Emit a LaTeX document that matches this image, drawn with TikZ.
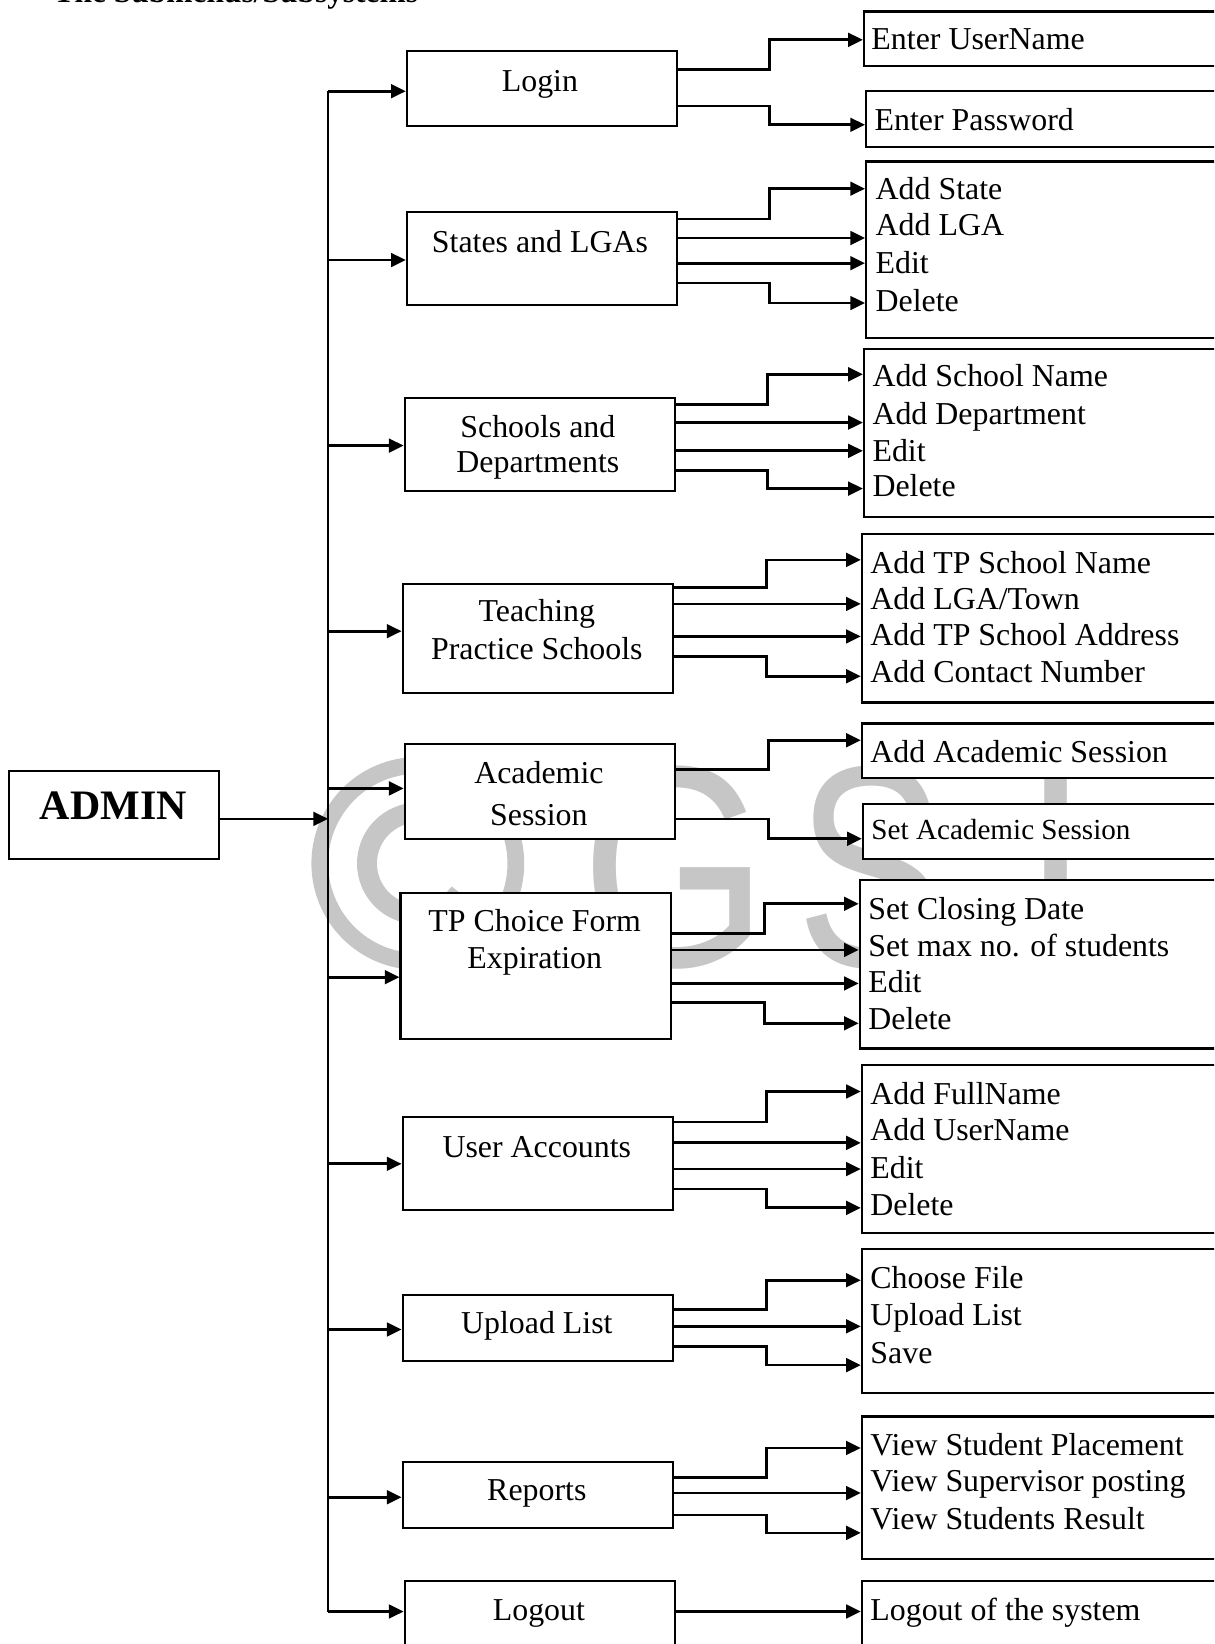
\documentclass[tikz,border=0pt]{standalone}
\usepackage{fontspec}
\setmainfont{Liberation Serif}
\newfontfamily\wmfont{Liberation Sans}
\usetikzlibrary{arrows.meta}

\definecolor{wm}{RGB}{198,198,198}

% box from its top-left to its bottom-right corner
\newcommand\placebox[5]{%
  \node[box, anchor=north west, minimum width={#4-#2}, minimum height={#5-#3}] (#1) at (#2,#3) {};}
% elbow connector: source box, start y, bend x, target box, end y
\newcommand\stepconn[5]{%
  \draw[conn] (#1.east |- 0,#2) -- (#3,#2) |- (#4.west |- 0,#5);}
% straight connector at one height
\newcommand\flatconn[3]{%
  \draw[conn] (#1.east |- 0,#2) -- (#3.west |- 0,#2);}

\begin{document}
\begin{tikzpicture}[x=1pt,y=-1pt,
  box/.style={draw=black, line width=2pt, fill=white, rectangle, inner sep=0pt},
  conn/.style={line width=2.6pt, -{Triangle[length=14pt,width=13pt]}},
  trunkline/.style={line width=2.2pt},
  lbl/.style={font=\fontsize{30.4}{36}\selectfont, inner sep=0pt, anchor=base},
  item/.style={font=\fontsize{30.4}{36}\selectfont, inner sep=0pt, anchor=base west},
  wmark/.style={text=wm, font=\wmfont\fontsize{274}{274}\selectfont, inner sep=0pt, anchor=base west},
]
\useasboundingbox (0,0) rectangle (1158,1568);
\clip (0,0) rectangle (1158,1568);

% heading (runs off the top edge)
\node[font=\bfseries\fontsize{30}{36}\selectfont, anchor=base west, inner sep=0pt] (title) at (51,2.5) {The Submenus/Subsystems};

% background watermark
\draw[wm, line width=16pt] (398.5,823.5) circle[radius=93.5pt];
\draw[wm, line width=19pt] ([shift={(35:48.5pt)}]398.5,823.5) arc[start angle=35, end angle=325, radius=48.5pt];
\node[wmark] (wmG) at (554,922) {\scalebox{0.836}[1]{G}};
\node[wmark] (wmS) at (759,922) {\scalebox{0.777}[1]{S}};
\node[wmark] (wmI) at (975,922) {\scalebox{0.84}[1]{I}};

% root
\placebox{admin}{8}{734}{208}{818}
\node[font=\bfseries\fontsize{40}{44}\selectfont, inner sep=0pt, anchor=base] (adminT) at (108,782) {ADMIN};

% trunk
\coordinate (trunkTop) at (313,87);
\coordinate (trunkBot) at (313,1537);
\draw[trunkline] (trunkTop) -- (trunkBot);
\draw[conn] (admin.east |- 0,781) -- (trunkTop |- 0,781);

% menu boxes
\placebox{login}{387}{48}{645}{119}
\placebox{states}{387}{201}{645}{290}
\placebox{schools}{385}{379}{643}{467}
\placebox{teach}{383}{556}{641}{660}
\placebox{acad}{385}{709}{643}{799}
\placebox{tpc}{381}{851}{639}{990}
\placebox{users}{383}{1064}{641}{1153}
\placebox{upload}{383}{1234}{641}{1297}
\placebox{reports}{383}{1393}{641}{1456}
\placebox{logout}{385}{1507}{643}{1595}

\node[lbl] (loginT) at (515,87) {Login};
\node[lbl] (statesT) at (515,241) {States and LGAs};
\node[lbl] (schoolsT1) at (513,417) {Schools and};
\node[lbl] (schoolsT2) at (513,451) {Departments};
\node[lbl] (teachT1) at (512,593) {Teaching};
\node[lbl] (teachT2) at (512,629) {Practice Schools};
\node[lbl] (acadT1) at (514,747) {Academic};
\node[lbl] (acadT2) at (514,787) {Session};
\node[lbl] (tpcT1) at (510,888) {TP Choice Form};
\node[lbl] (tpcT2) at (510,924) {Expiration};
\node[lbl] (usersT) at (512,1104) {User Accounts};
\node[lbl] (uploadT) at (512,1272) {Upload List};
\node[lbl] (reportsT) at (512,1431) {Reports};
\node[lbl] (logoutT) at (514,1546) {Logout};

% branches from the trunk
\foreach \b/\y in {login/87, states/248, schools/425, teach/602, acad/752,
                   tpc/932, users/1110, upload/1268, reports/1428, logout/1537}
  \draw[conn] (trunkTop |- 0,\y) -- (\b.west |- 0,\y);

% sub-option boxes
\placebox{rb1}{823}{10}{1175}{62}
\placebox{rb2}{825}{86}{1175}{139}
\placebox{rb3}{825}{153}{1175}{321}
\placebox{rb4}{823}{332}{1175}{492}
\placebox{rb5}{821}{508}{1175}{669}
\placebox{rb6}{821}{689}{1175}{741}
\placebox{rb7}{822}{766}{1175}{818}
\placebox{rb8}{819}{838}{1175}{999}
\placebox{rb9}{821}{1015}{1175}{1175}
\placebox{rb10}{821}{1190}{1175}{1328}
\placebox{rb11}{821}{1350}{1175}{1486}
\placebox{rb12}{821}{1507}{1175}{1595}

\node[item] (i1) at (831,47) {Enter UserName};
\node[item] (i2) at (834,124) {Enter Password};
\node[item] (i3a) at (835,190) {Add State};
\node[item] (i3b) at (835,225) {Add LGA};
\node[item] (i3c) at (835,261) {Edit};
\node[item] (i3d) at (835,297) {Delete};
\node[item] (i4a) at (832,369) {Add School Name};
\node[item] (i4b) at (832,405) {Add Department};
\node[item] (i4c) at (832,440) {Edit};
\node[item] (i4d) at (832,474) {Delete};
\node[item] (i5a) at (830,547) {Add TP School Name};
\node[item] (i5b) at (830,581) {Add LGA/Town};
\node[item] (i5c) at (830,616) {Add TP School Address};
\node[item] (i5d) at (830,651) {Add Contact Number};
\node[item] (i6) at (830,727) {Add Academic Session};
\node[item, font=\fontsize{27.8}{33}\selectfont] (i7) at (831,801) {Set Academic Session};
\node[item] (i8a) at (828,877) {Set Closing Date};
\node[item] (i8b) at (828,912) {Set max no. of students};
\node[item] (i8c) at (828,947) {Edit};
\node[item] (i8d) at (828,982) {Delete};
\node[item] (i9a) at (830,1053) {Add FullName};
\node[item] (i9b) at (830,1088) {Add UserName};
\node[item] (i9c) at (830,1124) {Edit};
\node[item] (i9d) at (830,1159) {Delete};
\node[item] (i10a) at (830,1229) {Choose File};
\node[item] (i10b) at (830,1264) {Upload List};
\node[item] (i10c) at (830,1300) {Save};
\node[item] (i11a) at (830,1388) {View Student Placement};
\node[item] (i11b) at (830,1423) {View Supervisor posting};
\node[item] (i11c) at (830,1459) {View Students Result};
\node[item] (i12) at (830,1546) {Logout of the system};

% connectors from menus to their options
\stepconn{login}{66}{734}{rb1}{38}
\stepconn{login}{101}{734}{rb2}{119}
\stepconn{states}{209}{734}{rb3}{180}
\flatconn{states}{227}{rb3}
\flatconn{states}{251}{rb3}
\stepconn{states}{270}{734}{rb3}{289}
\stepconn{schools}{386}{732}{rb4}{357}
\flatconn{schools}{403}{rb4}
\flatconn{schools}{430}{rb4}
\stepconn{schools}{449}{732}{rb4}{466}
\stepconn{teach}{560}{731}{rb5}{534}
\flatconn{teach}{576}{rb5}
\flatconn{teach}{607}{rb5}
\stepconn{teach}{626}{731}{rb5}{645}
\stepconn{acad}{734}{733}{rb6}{706}
\stepconn{acad}{781}{733}{rb7}{800}
\stepconn{tpc}{890}{729}{rb8}{862}
\flatconn{tpc}{906}{rb8}
\flatconn{tpc}{938}{rb8}
\stepconn{tpc}{956}{729}{rb8}{976}
\stepconn{users}{1070}{731}{rb9}{1041}
\flatconn{users}{1090}{rb9}
\flatconn{users}{1115}{rb9}
\stepconn{users}{1134}{731}{rb9}{1152}
\stepconn{upload}{1249}{731}{rb10}{1221}
\flatconn{upload}{1265}{rb10}
\stepconn{upload}{1284}{731}{rb10}{1302}
\stepconn{reports}{1409}{731}{rb11}{1381}
\flatconn{reports}{1424}{rb11}
\stepconn{reports}{1445}{731}{rb11}{1462}
\flatconn{logout}{1537}{rb12}
\end{tikzpicture}
\end{document}
